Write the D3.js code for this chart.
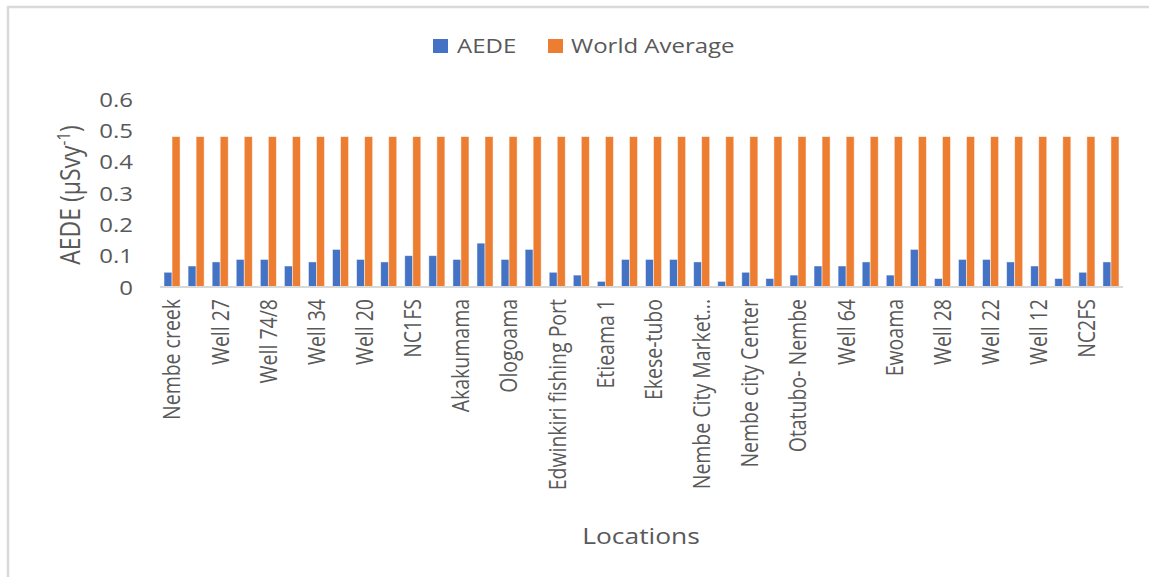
<!DOCTYPE html>
<html>
<head>
<meta charset="utf-8">
<script src="https://cdn.jsdelivr.net/npm/d3@7"></script>
<style>
  html, body { margin: 0; padding: 0; background: #fff; overflow: hidden; }
  svg { display: block; font-family: "Open Sans", sans-serif; overflow: hidden; }
</style>
</head>
<body>
<svg id="chart" width="1149" height="577"></svg>
<script>
// Sampling locations (every other one is labelled on the axis; the rest are left blank)
const locations = [
  "Nembe creek", "", "Well 27", "", "Well 74/8", "", "Well 34", "", "Well 20", "",
  "NC1FS", "", "Akakumama", "", "Ologoama", "", "Edwinkiri fishing Port", "", "Etieama 1", "",
  "Ekese-tubo", "", "Nembe City Market...", "", "Nembe city Center", "", "Otatubo- Nembe", "", "Well 64", "",
  "Ewoama", "", "Well 28", "", "Well 22", "", "Well 12", "", "NC2FS", ""
];

// Annual effective dose equivalent per location
const aede = [
  0.047, 0.067, 0.080, 0.088, 0.088, 0.067, 0.080, 0.120, 0.088, 0.080,
  0.100, 0.100, 0.088, 0.140, 0.088, 0.120, 0.047, 0.038, 0.018, 0.088,
  0.088, 0.088, 0.080, 0.018, 0.047, 0.027, 0.038, 0.067, 0.067, 0.080,
  0.038, 0.120, 0.027, 0.088, 0.088, 0.080, 0.067, 0.027, 0.047, 0.080
];

// World average reference for every location
const worldAverage = [
  0.48, 0.48, 0.48, 0.48, 0.48, 0.48, 0.48, 0.48, 0.48, 0.48,
  0.48, 0.48, 0.48, 0.48, 0.48, 0.48, 0.48, 0.48, 0.48, 0.48,
  0.48, 0.48, 0.48, 0.48, 0.48, 0.48, 0.48, 0.48, 0.48, 0.48,
  0.48, 0.48, 0.48, 0.48, 0.48, 0.48, 0.48, 0.48, 0.48, 0.48
];

const seriesNames = ["AEDE", "World Average"];
const yTicks = [0, 0.1, 0.2, 0.3, 0.4, 0.5, 0.6];

const colors = { "AEDE": "#4472C4", "World Average": "#ED7D31" };
const textColor = "#595959";
const SX = 1.2; // horizontal stretch applied to the wide chart text

const svg = d3.select("#chart");

// outer chart frame (only its top and left edges fall inside the view)
svg.append("rect")
  .attr("x", 8).attr("y", 7)
  .attr("width", 2000).attr("height", 2000)
  .attr("fill", "#fff")
  .attr("stroke", "#d9d9d9").attr("stroke-width", 2.5);

const plot = { left: 160, right: 1123, top: 99, bottom: 287 };

const x = d3.scaleBand()
  .domain(d3.range(locations.length))
  .range([plot.left, plot.right])
  .paddingInner(0).paddingOuter(0);

const xInner = d3.scaleBand()
  .domain(seriesNames)
  .range([0, x.bandwidth()])
  .paddingInner(0)
  .paddingOuter(0.5);

const y = d3.scaleLinear()
  .domain([0, 0.6])
  .range([plot.bottom, plot.top]);

// bars
const rows = locations.map((loc, i) => ({ i, values: [
  { key: "AEDE", v: aede[i] },
  { key: "World Average", v: worldAverage[i] }
]}));

const groups = svg.append("g").selectAll("g")
  .data(rows).join("g")
  .attr("transform", d => `translate(${x(d.i)},0)`);

groups.selectAll("rect")
  .data(d => d.values).join("rect")
  .attr("x", d => xInner(d.key))
  .attr("y", d => y(d.v))
  .attr("width", xInner.bandwidth())
  .attr("height", d => y(0) - y(d.v))
  .attr("fill", d => colors[d.key])
  .attr("stroke", "#fff").attr("stroke-opacity", 0.6).attr("stroke-width", 0.8);

// horizontal axis line
svg.append("line")
  .attr("x1", plot.left).attr("x2", plot.right)
  .attr("y1", y(0)).attr("y2", y(0))
  .attr("stroke", "#d9d9d9").attr("stroke-width", 2);

// y tick labels
const yAxis = d3.axisLeft(y).tickValues(yTicks).tickSize(0).tickPadding(0)
  .tickFormat(d => d === 0 ? "0" : d3.format(".1f")(d));
const yg = svg.append("g").attr("transform", "translate(133,0)").call(yAxis);
yg.select(".domain").remove();
yg.selectAll("text")
  .attr("fill", textColor)
  .attr("font-size", 20)
  .attr("font-family", "'Open Sans', sans-serif")
  .attr("dy", "0.35em")
  .attr("transform", `scale(${SX},1)`)
  .attr("x", 0);

// category labels (rotated)
const xAxis = d3.axisBottom(x).tickSize(0).tickPadding(0).tickFormat(i => locations[i]);
const xg = svg.append("g").attr("transform", `translate(0,${plot.bottom})`).call(xAxis);
xg.select(".domain").remove();
xg.selectAll("text")
  .attr("fill", textColor)
  .attr("font-size", 19.5)
  .attr("font-family", "'Open Sans', sans-serif")
  .attr("text-anchor", "end")
  .attr("dy", null)
  .attr("y", 0)
  .attr("transform", `scale(${SX},1) translate(0,12) rotate(-90) translate(0,7)`);

// y axis title with superscript
const yTitle = svg.append("text")
  .attr("transform", `translate(80,195) scale(${SX},1) rotate(-90)`)
  .attr("text-anchor", "middle")
  .attr("fill", textColor)
  .attr("font-size", 23);
yTitle.append("tspan").text("AEDE (µSvy");
yTitle.append("tspan").attr("font-size", 15).attr("dy", -8).text("-1");
yTitle.append("tspan").attr("dy", 8).text(")");

// x axis title
svg.append("text")
  .attr("transform", `translate(641,544) scale(${SX},1)`)
  .attr("text-anchor", "middle")
  .attr("fill", textColor)
  .attr("font-size", 22)
  .text("Locations");

// legend
const legendItems = [
  { key: "AEDE", sx: 433, tx: 457 },
  { key: "World Average", sx: 548, tx: 571 }
];
const lg = svg.append("g");
legendItems.forEach(it => {
  lg.append("rect")
    .attr("x", it.sx).attr("y", 39)
    .attr("width", 15).attr("height", 14)
    .attr("fill", colors[it.key]);
  lg.append("text")
    .attr("transform", `translate(${it.tx},53) scale(${SX},1)`)
    .attr("fill", textColor)
    .attr("font-size", 20)
    .text(it.key);
});
</script>
</body>
</html>
